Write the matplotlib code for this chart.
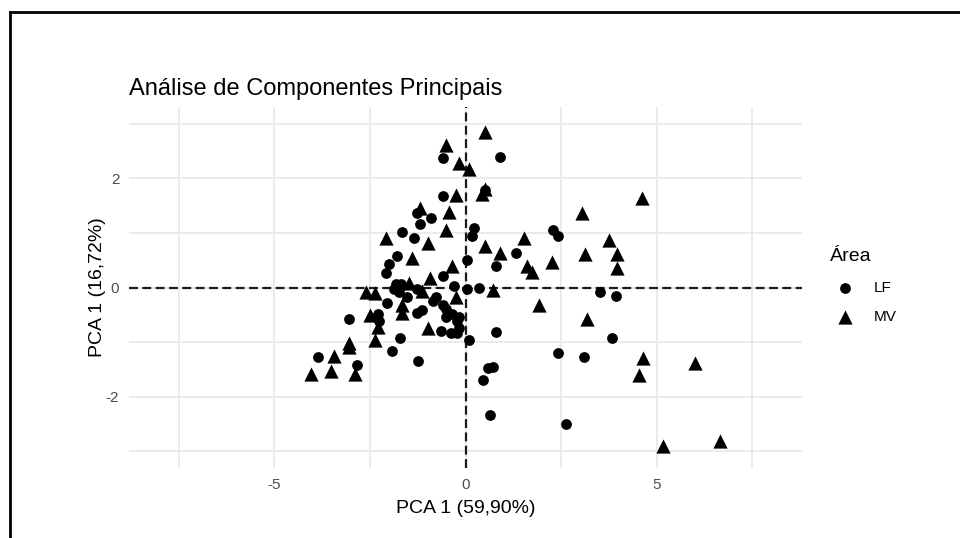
import matplotlib
matplotlib.use("Agg")
import matplotlib.pyplot as plt
from matplotlib.lines import Line2D
from matplotlib.ticker import MultipleLocator

plt.rcParams["font.family"] = ["Liberation Sans", "DejaVu Sans"]
plt.rcParams["axes.unicode_minus"] = False

# PCA scores, one pair of lists per area
LF_X = [-0.60, 0.89, -0.58, 0.50, -1.28, -1.20, -0.89, -1.65, -1.34, -1.78,
        -1.99, -2.07, 0.21, 0.18, 0.03, 0.81, 1.31, -0.60, -0.29, 0.34,
        2.28, 2.41, 3.51, 3.93, 0.81, 0.10, 3.82, 2.41, 3.09, 0.60,
        0.71, 0.45, 0.65, 2.62, -3.04, -3.87, -2.85, -1.70, -1.91, -1.23,
        -1.81, -1.68, -1.86, -1.73, -1.28, 0.03, -2.04, -0.86, -0.76, -1.13,
        -1.26, -0.60, -0.50, -0.50, -0.34, -0.21, -0.16, -2.30, -2.25, -0.63,
        -0.37, -0.21, -0.16, -1.54]
LF_Y = [2.37, 2.39, 1.67, 1.78, 1.36, 1.17, 1.27, 1.01, 0.90, 0.57,
        0.44, 0.26, 1.10, 0.95, 0.50, 0.40, 0.64, 0.22, 0.02, 0.00,
        1.05, 0.94, -0.09, -0.15, -0.81, -0.97, -0.92, -1.21, -1.28, -1.47,
        -1.45, -1.69, -2.33, -2.50, -0.57, -1.27, -1.43, -0.92, -1.16, -1.34,
        0.07, 0.07, -0.02, -0.09, -0.02, -0.02, -0.29, -0.24, -0.18, -0.42,
        -0.46, -0.33, -0.39, -0.55, -0.48, -0.61, -0.55, -0.48, -0.61, -0.79,
        -0.83, -0.84, -0.75, -0.18]

MV_X = [0.50, -0.50, -0.16, 0.10, 0.42, 0.52, -0.24, -0.42, -1.20, -0.50,
        -2.07, -0.99, -1.41, -0.34, -0.94, 0.50, 0.89, 1.54, 1.60, 1.75,
        0.71, -2.59, -2.36, 4.61, 3.04, 2.25, 3.12, 3.74, 3.95, 3.95,
        1.91, 3.17, 4.63, 4.55, 5.99, 5.16, 6.65, -2.51, -2.28, -3.04,
        -3.04, -3.43, -4.03, -3.51, -2.88, -2.36, -1.65, -1.65, -0.24, -1.47,
        -1.15, -0.99]
MV_Y = [2.86, 2.61, 2.28, 2.18, 1.72, 1.80, 1.69, 1.38, 1.45, 1.05,
        0.90, 0.81, 0.55, 0.40, 0.17, 0.77, 0.64, 0.90, 0.40, 0.28,
        -0.04, -0.09, -0.11, 1.65, 1.36, 0.46, 0.62, 0.88, 0.62, 0.35,
        -0.33, -0.57, -1.30, -1.61, -1.38, -2.90, -2.81, -0.51, -0.73, -1.01,
        -1.10, -1.25, -1.58, -1.54, -1.58, -0.97, -0.33, -0.46, -0.18, 0.09,
        -0.06, -0.75]

GROUPS = ["LF", "MV"]
TITLE = "Análise de Componentes Principais"
XLABEL = "PCA 1 (59,90%)"
YLABEL = "PCA 1 (16,72%)"

W, H = 960, 538
fig = plt.figure(figsize=(W / 100, H / 100), dpi=100)
ax = fig.add_axes([129 / W, 1 - 468 / H, (802 - 129) / W, (468 - 107) / H])

ax.set_xlim(-8.8, 8.8)
ax.set_ylim(-3.31, 3.31)
ax.xaxis.set_major_locator(MultipleLocator(5))
ax.xaxis.set_minor_locator(MultipleLocator(2.5))
ax.yaxis.set_major_locator(MultipleLocator(2))
ax.yaxis.set_minor_locator(MultipleLocator(1))
ax.grid(True, which="both", color="#EBEBEB", lw=1.4)
ax.set_axisbelow(True)
for s in ax.spines.values():
    s.set_visible(False)
ax.tick_params(which="both", length=0, labelsize=11, labelcolor="#4D4D4D", pad=7)

ax.axhline(0, color="#1a1a1a", lw=1.6, ls=(0, (4, 2)), zorder=1)
ax.axvline(0, color="#1a1a1a", lw=1.6, ls=(0, (4, 2)), zorder=1)

ax.scatter(LF_X, LF_Y, marker="o", s=60, color="black", lw=0, label=GROUPS[0], zorder=3)
ax.scatter(MV_X, MV_Y, marker="^", s=105, color="black", lw=0, label=GROUPS[1], zorder=3)

ax.set_xlabel(XLABEL, fontsize=14, labelpad=6)
ax.set_ylabel(YLABEL, fontsize=14, labelpad=0)
fig.text(129 / W, 1 - 95 / H, TITLE, fontsize=17, ha="left", va="baseline")

leg = ax.legend(title="Área", loc="upper left", bbox_to_anchor=(1.032, 0.625),
                frameon=False, fontsize=11, title_fontsize=14,
                handletextpad=0.9, labelspacing=1.0, borderaxespad=0)
leg._legend_box.align = "left"

# screenshot frame on the top and left edges
fig.add_artist(Line2D([10 / W, 10 / W], [0, 1 - 12 / H], color="black", lw=2))
fig.add_artist(Line2D([10 / W, 1], [1 - 12 / H, 1 - 12 / H], color="black", lw=2))

fig.savefig("out.png", dpi=100)
